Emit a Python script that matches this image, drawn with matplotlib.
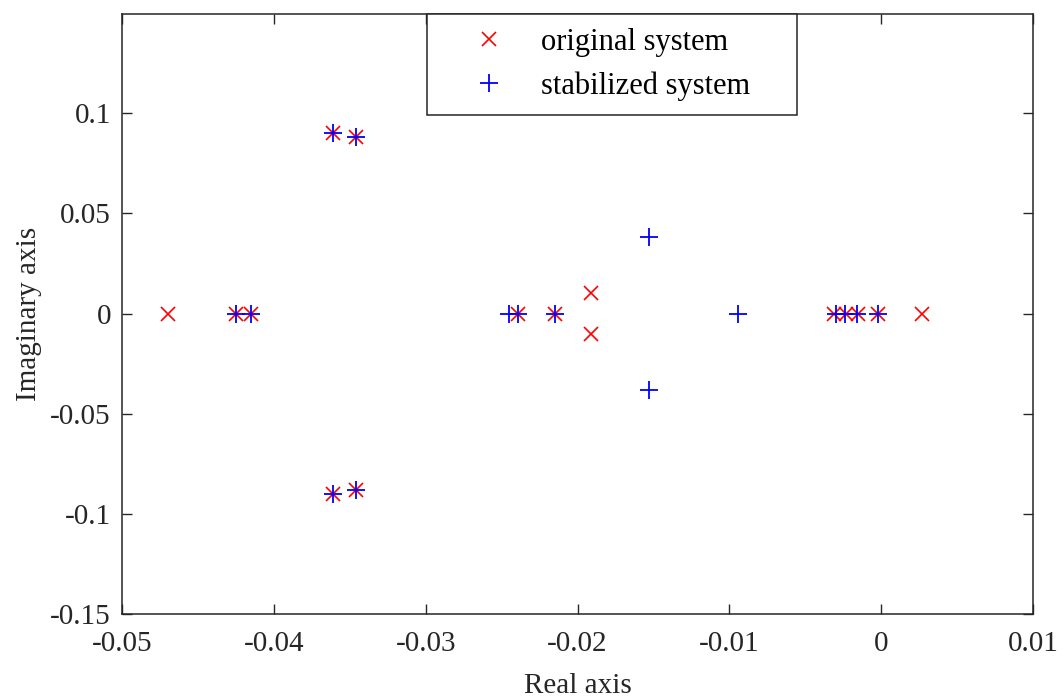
import numpy as np
import matplotlib.pyplot as plt

plt.rcParams['font.family'] = ['Liberation Serif', 'DejaVu Serif']

# poles of the open-loop system (real, imag)
orig_re = [-0.0470, -0.0425, -0.0415, -0.0361, -0.0361, -0.0346, -0.0346,
           -0.0239, -0.0215, -0.0191, -0.0191,
           -0.0031, -0.0023, -0.0015, -0.0002, 0.0027]
orig_im = [0, 0, 0, 0.0903, -0.0903, 0.0883, -0.0883,
           0, 0, 0.0104, -0.0104,
           0, 0, 0, 0, 0]

# poles after stabilization
stab_re = [-0.0425, -0.0415, -0.0361, -0.0361, -0.0346, -0.0346,
           -0.0245, -0.0239, -0.0215, -0.0153, -0.0153, -0.0094,
           -0.0030, -0.0024, -0.0016, -0.0002]
stab_im = [0, 0, 0.0903, -0.0903, 0.0883, -0.0883,
           0, 0, 0, 0.038, -0.038, 0,
           0, 0, 0, 0]

FS = 21

fig = plt.figure(figsize=(10.63, 6.98), dpi=100)
ax = fig.add_axes([0.1148, 0.1203, 0.857, 0.8596])

ax.plot(orig_re, orig_im, 'x', color='red', ms=10, mew=1.2,
        label='original system')
ax.plot(stab_re, stab_im, '+', color='blue', ms=13, mew=1.3,
        label='stabilized system')

ax.set_xlim(-0.05, 0.01)
ax.set_ylim(-0.15, 0.1495)
ax.set_xticks(np.arange(-0.05, 0.0101, 0.01))
ax.set_xticklabels(['-0.05', '-0.04', '-0.03', '-0.02', '-0.01', '0', '0.01'])
ax.set_yticks([-0.15, -0.1, -0.05, 0, 0.05, 0.1])
ax.set_yticklabels(['-0.15', '-0.1', '-0.05', '0', '0.05', '0.1'])

ax.tick_params(direction='in', top=True, right=True, length=7, width=1,
               labelsize=FS, colors='#262626', pad=8)
ax.tick_params(axis='x', pad=12)
for s in ax.spines.values():
    s.set_linewidth(1.1)
    s.set_color('#262626')

ax.set_xlabel('Real axis', fontsize=FS, color='#262626', labelpad=12)
ax.set_ylabel('Imaginary axis', fontsize=FS, color='#262626', labelpad=6)

# legend box stretched to a fixed width, left-aligned entries
leg = ax.legend(loc='upper left', bbox_to_anchor=(0.3348, 0, 0.4062, 1.0),
                mode='expand', fontsize=22, frameon=True, fancybox=False,
                framealpha=1, edgecolor='#262626', borderpad=0.45,
                handletextpad=0.14, labelspacing=0.48, handlelength=3.15,
                borderaxespad=0)
leg.get_frame().set_linewidth(1.1)

fig.savefig('out.png', dpi=100)
